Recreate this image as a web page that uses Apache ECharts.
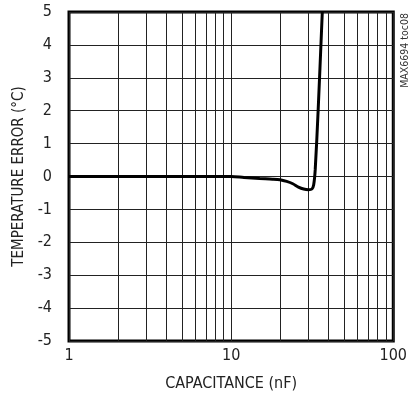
<!DOCTYPE html>
<html><head><meta charset="utf-8">
<script src="https://cdn.jsdelivr.net/npm/echarts@6/dist/echarts.min.js"></script>
<style>html,body{margin:0;padding:0;background:#fff}#c{width:410px;height:402px}</style>
</head><body><div id="c"></div>
<script>
var capacitance = [1, 2, 5, 10, 12, 15, 18, 20, 22, 24, 26, 28, 30, 31.5, 32.3, 33, 34.4, 36.5];
var tempError   = [0, 0, 0, 0, -0.03, -0.06, -0.08, -0.1, -0.15, -0.22, -0.32, -0.38, -0.4, -0.38, -0.25, 0.2, 2.0, 5.0];
var minorX = [2, 3, 4, 5, 6, 7, 8, 9, 20, 30, 40, 50, 60, 70, 80, 90];
var xTicks = [1, 10, 100];
var yTicks = [-5, -4, -3, -2, -1, 0, 1, 2, 3, 4, 5];
var xTitle = 'CAPACITANCE (nF)';
var yTitle = 'TEMPERATURE ERROR (°C)';
var tag = 'MAX6694 toc08';

var font = "'DejaVu Sans Condensed', 'Liberation Sans', sans-serif";
var chart = echarts.init(document.getElementById('c'));
chart.setOption({
  animation: false,
  grid: {left: 69, right: 12, top: 12, bottom: 61, show: true, borderColor: '#000', borderWidth: 3, backgroundColor: 'transparent'},
  xAxis: {
    type: 'log', logBase: 10, min: xTicks[0], max: xTicks[xTicks.length-1],
    name: xTitle, nameLocation: 'middle', nameGap: 35,
    nameTextStyle: {fontFamily: font, fontSize: 16, color: '#222'},
    axisLine: {show: false}, axisTick: {show: false},
    axisLabel: {fontFamily: font, fontSize: 16, color: '#222', margin: 7},
    splitLine: {show: true, lineStyle: {color: '#222', width: 1}}
  },
  yAxis: {
    type: 'value', min: yTicks[0], max: yTicks[yTicks.length-1], interval: 1,
    name: yTitle, nameLocation: 'middle', nameGap: 42,
    nameTextStyle: {fontFamily: font, fontSize: 15, color: '#222'},
    axisLine: {show: false}, axisTick: {show: false},
    axisLabel: {fontFamily: font, fontSize: 16, color: '#222', margin: 17},
    splitLine: {show: true, lineStyle: {color: '#222', width: 1}}
  },
  graphic: [{
    type: 'text', left: 400, top: 13, rotation: Math.PI/2,
    style: {text: tag, fontFamily: font, fontSize: 10.5, fill: '#333'}
  }],
  series: [{
    type: 'line', data: capacitance.map(function(c, i){ return [c, tempError[i]]; }),
    smooth: 0.3, symbol: 'none', clip: true,
    lineStyle: {color: '#000', width: 3},
    markLine: {
      silent: true, symbol: 'none', label: {show: false},
      lineStyle: {color: '#222', width: 1, type: 'solid'},
      data: minorX.map(function(v){ return {xAxis: v}; })
    },
    z: 5
  }]
});
</script></body></html>
